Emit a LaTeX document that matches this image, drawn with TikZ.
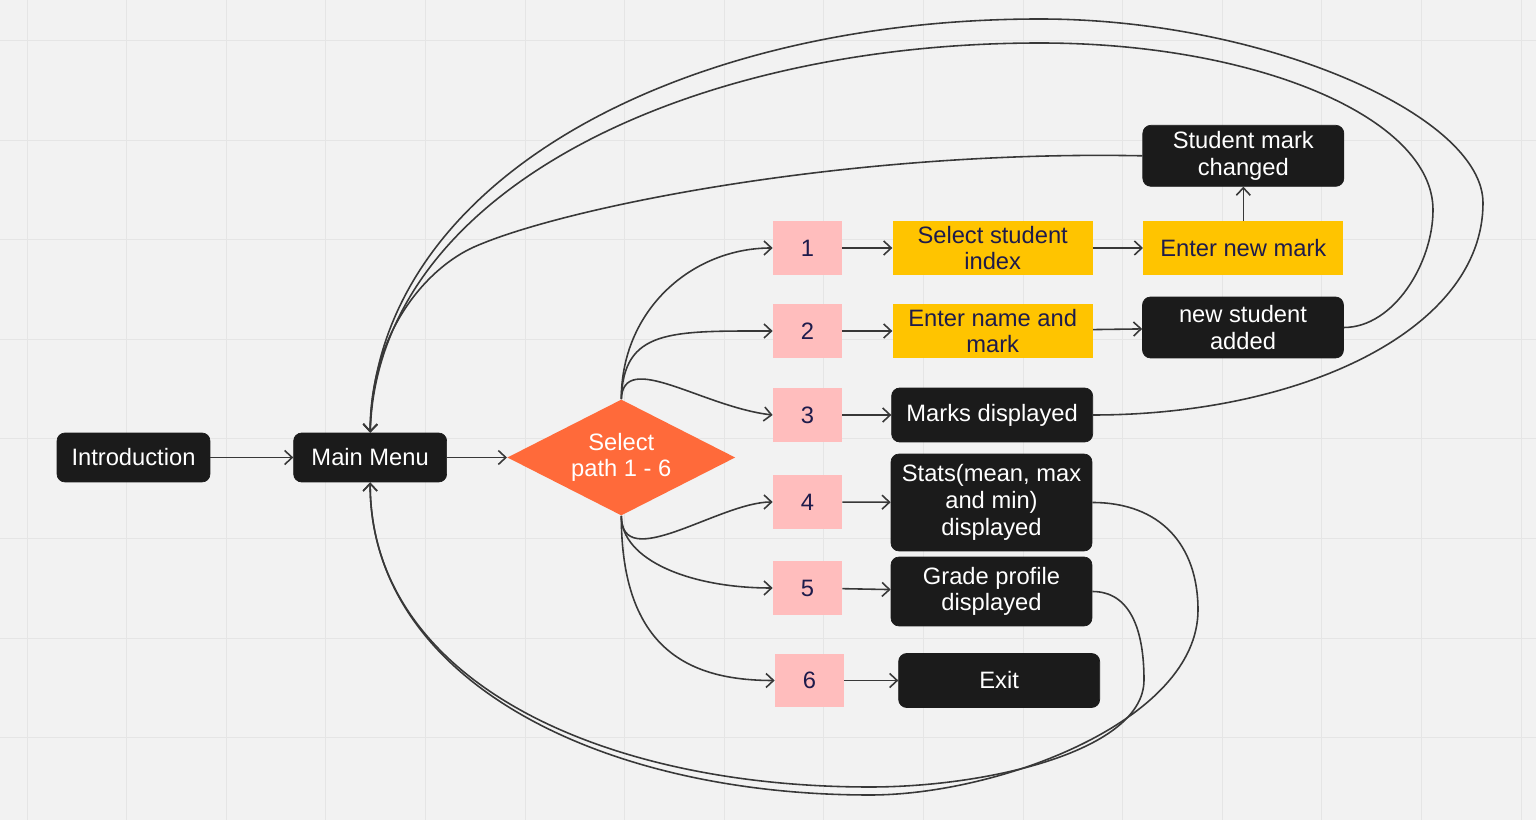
\documentclass[tikz,border=0pt]{standalone}
\usepackage{fontspec}
\setmainfont{Liberation Sans}
\usepackage{xcolor}
\usepackage{tikz}
\usetikzlibrary{arrows.meta,positioning,shapes.geometric}

\definecolor{canvas}{HTML}{F2F2F2}
\definecolor{gridline}{HTML}{E5E5E5}
\definecolor{nodeblack}{HTML}{1B1B1B}
\definecolor{optpink}{HTML}{FFBDBD}
\definecolor{inyellow}{HTML}{FFC400}
\definecolor{decorange}{HTML}{FF6A3A}
\definecolor{navytext}{HTML}{1E1B4B}
\definecolor{wire}{HTML}{383838}

\begin{document}
\begin{tikzpicture}[
    x=0.02cm, y=-0.02cm,
    font=\fontsize{13.5}{15.2}\selectfont,
    box/.style={
        align=center,
        inner sep=0pt,
        minimum height=1.08cm
    },
    blk/.style={box, fill=nodeblack, draw=nodeblack, rounded corners=0.16cm, text=white, minimum width=4.02cm},
    opt/.style={box, fill=optpink, text=navytext, minimum width=1.38cm},
    inp/.style={box, fill=inyellow, text=navytext, minimum width=4.0cm},
    decide/.style={
        diamond,
        aspect=2,
        fill=decorange,
        text=white,
        align=center,
        inner sep=0pt,
        minimum width=4.56cm,
        minimum height=2.32cm
    },
    arrow/.style={-{Straight Barb[length=1.5mm,width=2.8mm]}, wire, line width=0.9pt}
]
\fill[canvas] (0,0) rectangle (1536,820);
\useasboundingbox (0,0) rectangle (1536,820);
% grid
\foreach \i in {0,...,15} \draw[gridline, line width=0.5pt] ({27+99.6*\i},0) -- ({27+99.6*\i},820);
\foreach \j in {0,...,7} \draw[gridline, line width=0.5pt] (0,{40.5+99.6*\j}) -- (1536,{40.5+99.6*\j});

\node[blk, minimum width=3.06cm, minimum height=0.98cm] (intro) at (133.5,457.5) {Introduction};
\node[blk, minimum width=3.06cm, minimum height=0.98cm, right=1.66cm of intro] (mainmenu) {Main Menu};
\node[decide, right=1.2cm of mainmenu] (select) {Select\\path 1 - 6};

\node[opt] (opt1) at (807.5,248) {1};
\node[opt] (opt2) at (807.5,331) {2};
\node[opt] (opt3) at (807.5,415) {3};
\node[opt] (opt4) at (807.5,502) {4};
\node[opt] (opt5) at (807.5,588) {5};
\node[opt] (opt6) at (809.5,680.5) {6};

\node[inp, right=1.0cm of opt1] (selidx) {Select student\\index};
\node[inp, right=1.0cm of opt2] (namemark) {Enter name and\\mark};
\node[blk, right=0.98cm of opt3] (marks) {Marks displayed};
\node[blk, minimum height=1.94cm] (stats) at (991.5,502.5) {Stats(mean, max\\and min)\\displayed};
\node[blk, minimum height=1.38cm] (grade) at (991.5,591.5) {Grade profile\\displayed};
\node[blk, right=1.08cm of opt6] (exitnode) {Exit};

\node[inp, right=1.0cm of selidx] (newmark) {Enter new mark};
\node[blk, minimum height=1.22cm, above=0.68cm of newmark] (markchanged) {Student mark\\changed};
\node[blk, minimum height=1.22cm] (newstudent) at (1243,327.5) {new student\\added};

\draw[arrow] (intro) -- (mainmenu);
\draw[arrow] (mainmenu) -- (select);

% paths out of the decision
\draw[arrow] (select.north) .. controls +(0,-90) and +(-80,0) .. (opt1.west);
\draw[arrow] (select.north) .. controls +(2,-70) and +(-103,0) .. (opt2.west);
\draw[arrow] (select.north) .. controls +(2,-50) and +(-70,-8) .. (opt3.west);
\draw[arrow] (select.south) .. controls +(0,59) and +(-53,0) .. (opt4.west);
\draw[arrow] (select.south) .. controls +(0,44) and +(-83,0) .. (opt5.west);
\draw[arrow] (select.south) .. controls +(0,134) and +(-85,0) .. (opt6.west);

\draw[arrow] (opt1) -- (selidx);
\draw[arrow] (opt2) -- (namemark);
\draw[arrow] (opt3) -- (marks);
\draw[arrow] (opt4) -- (stats);
\draw[arrow] (opt5) -- (grade);
\draw[arrow] (opt6) -- (exitnode);
\draw[arrow] (selidx) -- (newmark);
\draw[arrow] (namemark) -- (newstudent);
\draw[arrow] (newmark) -- (markchanged);

% back to the main menu
\draw[arrow] (markchanged.west) .. controls +(-293,-6) and +(90,-40) .. (474,247)
    .. controls +(-45,20) and +(0,-103) .. (mainmenu.north);
\draw[arrow] (newstudent.east) .. controls +(50,0) and +(0,53) .. (1433,210)
    .. controls +(0,-92) and +(217,0) .. (1040,43)
    .. controls +(-350,0) and +(8,-243) .. (mainmenu.north);
\draw[arrow] (marks.east) .. controls +(208,0) and +(0,127) .. (1483,203)
    .. controls +(0,-88) and +(223,0) .. (1040,19)
    .. controls +(-360,0) and +(5,-253) .. (mainmenu.north);
\draw[arrow] (stats.east) .. controls +(68,0) and +(0,-65) .. (1198,610)
    .. controls +(0,110) and +(130,0) .. (870,795)
    .. controls +(-270,0) and +(0,198) .. (mainmenu.south);
\draw[arrow] (grade.east) .. controls +(38,0) and +(0,-50) .. (1144,680)
    .. controls +(0,70) and +(120,0) .. (870,787)
    .. controls +(-270,0) and +(0,198) .. (mainmenu.south);
\end{tikzpicture}
\end{document}
